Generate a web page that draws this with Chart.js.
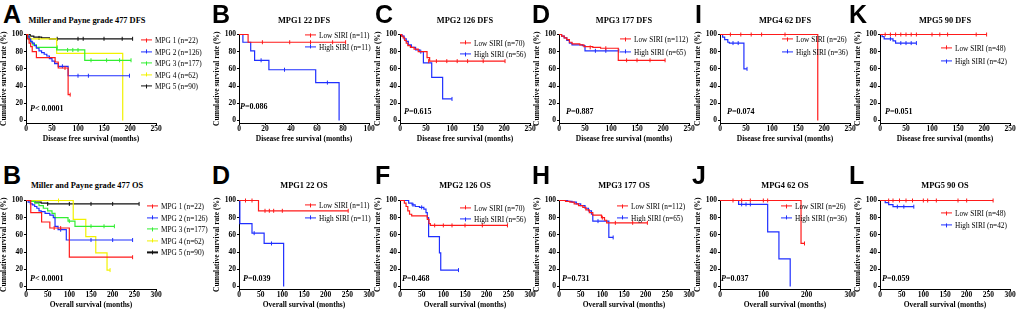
<!DOCTYPE html>
<html>
<head>
<meta charset="utf-8">
<script src="https://cdn.jsdelivr.net/npm/chart.js@4.4.1/dist/chart.umd.min.js"></script>
<style>
  body { margin: 0; background: #fff; width: 1017px; height: 312px; overflow: hidden; position: relative; font-family: "Liberation Serif", "Times New Roman", serif; color: #000; }
  canvas { position: absolute; }
  .letter { position: absolute; font-family: "Liberation Sans", Arial, sans-serif; font-weight: bold; font-size: 25px; line-height: 25px; }
  .title { position: absolute; font-weight: bold; font-size: 8.4px; white-space: nowrap; transform: translate(-50%, -50%); }
  .pval { position: absolute; font-weight: bold; font-size: 8px; white-space: nowrap; transform: translateY(-50%); }
  .pval i { font-style: italic; }
  .leg { position: absolute; font-size: 7.3px; white-space: nowrap; transform: translateY(-50%); }
  .key { position: absolute; width: 11px; height: 1.2px; transform: translateY(-50%); }
  .key span { position: absolute; left: 5px; top: -1.5px; width: 1px; height: 4px; }
</style>
</head>
<body>
<script>
// ---- data (months, survival %) ----
const mpgLabels = ['MPG 1 (n=22)', 'MPG 2 (n=126)', 'MPG 3 (n=177)', 'MPG 4 (n=62)', 'MPG 5 (n=90)'];
const siriN = [[11, 11], [70, 56], [112, 65], [26, 36], [48, 42]];
const pDfs = ['< 0.0001', '=0.086', '=0.615', '=0.887', '=0.074', '=0.051'];
const pOs = ['< 0.0001', '=0.039', '=0.468', '=0.731', '=0.037', '=0.059'];
const lettersDfs = ['A', 'B', 'C', 'D', 'I', 'K'];
const lettersOs = ['B', 'D', 'F', 'H', 'J', 'L'];
const titlesDfs = ['Miller and Payne grade 477 DFS', 'MPG1 22 DFS', 'MPG2 126 DFS', 'MPG3 177 DFS', 'MPG4 62 DFS', 'MPG5 90 DFS'];
const titlesOs = ['Miller and Payne grade 477 OS', 'MPG1 22 OS', 'MPG2 126 OS', 'MPG3 177 OS', 'MPG4 62 OS', 'MPG5 90 OS'];
const xMaxDfs = [250, 100, 250, 250, 250, 250];
const xStepDfs = [50, 20, 50, 50, 50, 50];
const xMaxOs = [300, 300, 300, 300, 300, 300];
const xStepOs = [50, 50, 50, 50, 100, 50];
const yTicks = [0, 20, 40, 60, 80, 100];

// all-patient curves
const dfsMpg1 = [[0,100],[3,95],[6,90],[9,86],[12,80],[20,73],[54,73],[56,68],[62,61],[81,30],[85,30]];
const dfsMpg2 = [[0,100],[3,98],[6,95],[9,92],[12,90],[16,87],[20,84],[25,81],[30,79],[35,77],[40,75],[45,72],[50,69],[55,66],[62,63],[81,52],[199,52]];
const dfsMpg3 = [[0,100],[3,97],[6,94],[9,91],[13,88],[20,85],[59,82],[113,70],[202,70]];
const dfsMpg4 = [[0,100],[4,97],[8,95],[59,78],[186,0]];
const dfsMpg5 = [[0,100],[8,98],[15,97],[30,96],[45,95],[205,95]];
const osMpg1 = [[0,100],[11,86],[36,75],[55,68],[100,34],[246,34]];
const osMpg2 = [[0,100],[5,98],[10,96],[15,95],[20,93],[25,91],[30,88],[35,87],[44,85],[55,83],[63,80],[67,70],[74,66],[93,54],[246,54]];
const osMpg3 = [[0,100],[10,99],[20,97],[30,94],[40,91],[50,88],[60,85],[67,80],[97,76],[113,70],[204,70]];
const osMpg4 = [[0,100],[109,78],[138,58],[161,39],[187,19],[194,19]];
const osMpg5 = [[0,100],[10,99],[20,98],[35,97],[50,96],[261,96]];

// low / high SIRI curves per MPG grade
const dfsLow1 = [[0,100],[7,91],[82,91]];
const dfsHigh1 = [[0,100],[3,91],[9,81],[12,70],[23,59],[59,44],[77,0]];
const dfsLow2 = [[0,100],[3,98],[6,96],[9,93],[12,90],[15,87],[20,85],[27,83],[35,80],[52,73],[57,69],[202,69]];
const dfsHigh2 = [[0,100],[4,98],[8,95],[12,92],[16,88],[22,85],[30,82],[38,80],[45,67],[61,50],[82,25],[100,25]];
const dfsLow3 = [[0,100],[5,98],[10,96],[15,94],[20,91],[25,89],[40,88],[48,86],[65,85],[80,84],[114,70],[204,70]];
const dfsHigh3 = [[0,100],[5,98],[10,96],[15,93],[20,90],[25,88],[45,87],[50,81],[115,81]];
const dfsLow4 = [[0,100],[188,0]];
const dfsHigh4 = [[0,100],[5,97],[9,94],[15,91],[18,90],[46,60],[52,60]];
const dfsLow5 = [[0,100],[205,100]];
const dfsHigh5 = [[0,100],[4,97.6],[8,95],[25,92.5],[30,90],[70,90]];
const osLow1 = [[0,100],[45,88],[252,88]];
const osHigh1 = [[0,100],[2,73],[30,62],[58,50],[103,0]];
const osLow2 = [[0,100],[10,97],[14,93],[18,88],[22,84],[27,82],[63,78],[67,73],[70,71],[248,71]];
const osHigh2 = [[0,100],[20,97],[28,95],[35,93],[45,92],[55,90],[60,86],[63,80],[66,58],[91,39],[94,19],[135,19]];
const osLow3 = [[0,100],[15,99],[25,98],[35,96],[45,94],[55,92],[62,89],[70,86],[78,83],[98,80],[105,77],[110,74],[204,74]];
const osHigh3 = [[0,100],[20,99],[30,98],[40,96],[50,94],[60,91],[68,88],[75,84],[78,76],[115,57],[125,57]];
const osLow4 = [[0,100],[187,50],[195,50]];
const osHigh4 = [[0,100],[43,95.5],[110,63.5],[136,32],[162,0]];
const osLow5 = [[0,100],[261,100]];
const osHigh5 = [[0,100],[12,97.6],[20,95.2],[30,92.8],[78,92.8]];

// censored observations
const cenDfsMpg1 = [[75,61],[85,30]];
const cenDfsMpg2 = [[70,63],[100,52],[120,52],[199,52]];
const cenDfsMpg3 = [[60,85],[80,82],[90,82],[100,82],[125,70],[155,70],[180,70],[202,70]];
const cenDfsMpg5 = [[25,96],[60,95],[100,95],[110,95],[150,95],[185,95],[205,95]];
const cenOsMpg1 = [[65,68],[80,68],[246,34]];
const cenOsMpg2 = [[80,66],[150,54],[200,54],[246,54]];
const cenOsMpg3 = [[100,76],[150,70],[180,70],[204,70]];
const cenOsMpg4 = [[75,100],[194,19]];
const cenOsMpg5 = [[50,96],[100,96],[150,96],[200,96],[261,96]];
const cenDfsLow1 = [[18,91],[39,91],[55,91],[72,91],[82,91]];
const cenDfsHigh1 = [[17,70],[35,59],[68,44]];
const cenDfsLow2 = [[55,69],[70,69],[90,69],[110,69],[130,69],[160,69],[202,69]];
const cenDfsHigh2 = [[40,80],[100,25]];
const cenDfsLow3 = [[60,85],[90,84],[130,70],[150,70],[175,70],[204,70]];
const cenDfsHigh3 = [[70,81],[90,81],[115,81]];
const cenDfsLow4 = [[20,100],[40,100],[60,100],[80,100],[125,100]];
const cenDfsHigh4 = [[25,90],[35,90],[52,60]];
const cenDfsLow5 = [[10,100],[20,100],[30,100],[40,100],[50,100],[60,100],[70,100],[100,100],[115,100],[130,100],[185,100],[205,100]];
const cenDfsHigh5 = [[20,95],[40,90],[50,90],[60,90],[70,90]];
const cenOsLow1 = [[15,100],[30,100],[60,88],[70,88],[80,88],[100,88],[252,88]];
const cenOsHigh1 = [[35,62],[75,50]];
const cenOsLow2 = [[80,71],[100,71],[120,71],[150,71],[190,71],[248,71]];
const cenOsHigh2 = [[30,95],[50,92],[135,19]];
const cenOsLow3 = [[100,80],[130,74],[170,74],[204,74]];
const cenOsHigh3 = [[90,76],[125,57]];
const cenOsLow4 = [[30,100],[50,100],[70,100],[100,100],[110,100],[195,50]];
const cenOsHigh4 = [[50,95.5],[60,95.5],[70,95.5]];
const cenOsLow5 = [[20,100],[30,100],[45,100],[60,100],[75,100],[100,100],[110,100],[130,100],[180,100],[200,100],[261,100]];
const cenOsHigh5 = [[40,92.8],[55,92.8],[78,92.8]];

// ---- layout ----
const mpgColors = ['#ff1a1a', '#1f2fff', '#33ee33', '#f2f200', '#111111'];
const siriColors = ['#ff1a1a', '#1f2fff'];
const axisX = [26, 239, 400, 559, 720, 880];
const canvasTop = [29, 195];
const letterLeft = [[3, 212, 375, 532, 695, 849], [3, 212, 375, 532, 692, 849]];
const letterTop = [1.7, 162.7];
const titleY = [20, 185.3];
const legendPos = [
  [{x: 141, y: [40, 51.5, 63, 74.5, 86]}, {x: 305, y: [35, 46.7]}, {x: 460, y: [42.7, 54.3]}, {x: 620, y: [39.3, 51.7]}, {x: 782, y: [39.3, 51.7]}, {x: 941, y: [47.7, 61]}],
  [{x: 147, y: [206, 217.6, 229.2, 240.8, 252.4]}, {x: 305, y: [205.3, 217.7]}, {x: 460, y: [207.7, 219.3]}, {x: 617, y: [206, 217.7]}, {x: 781, y: [206, 217.7]}, {x: 941, y: [213.3, 225]}]
];
const pPos = [
  [[30, 108], [240, 106], [404, 111], [566, 111], [727, 111], [885, 111]],
  [[30, 277.7], [243, 277.7], [402, 277.7], [562, 277.7], [721, 277.7], [882, 277.7]]
];

const panels = [
  [
    {series: [dfsMpg1, dfsMpg2, dfsMpg3, dfsMpg4, dfsMpg5], cens: [cenDfsMpg1, cenDfsMpg2, cenDfsMpg3, [], cenDfsMpg5], colors: mpgColors, labels: mpgLabels},
    {series: [dfsLow1, dfsHigh1], cens: [cenDfsLow1, cenDfsHigh1]},
    {series: [dfsLow2, dfsHigh2], cens: [cenDfsLow2, cenDfsHigh2]},
    {series: [dfsLow3, dfsHigh3], cens: [cenDfsLow3, cenDfsHigh3]},
    {series: [dfsLow4, dfsHigh4], cens: [cenDfsLow4, cenDfsHigh4]},
    {series: [dfsLow5, dfsHigh5], cens: [cenDfsLow5, cenDfsHigh5]}
  ],
  [
    {series: [osMpg1, osMpg2, osMpg3, osMpg4, osMpg5], cens: [cenOsMpg1, cenOsMpg2, cenOsMpg3, cenOsMpg4, cenOsMpg5], colors: mpgColors, labels: mpgLabels},
    {series: [osLow1, osHigh1], cens: [cenOsLow1, cenOsHigh1]},
    {series: [osLow2, osHigh2], cens: [cenOsLow2, cenOsHigh2]},
    {series: [osLow3, osHigh3], cens: [cenOsLow3, cenOsHigh3]},
    {series: [osLow4, osHigh4], cens: [cenOsLow4, cenOsHigh4]},
    {series: [osLow5, osHigh5], cens: [cenOsLow5, cenOsHigh5]}
  ]
];

const serif = '"Liberation Serif", "Times New Roman", serif';

function addDiv(cls, html, left, top) {
  const d = document.createElement('div');
  d.className = cls;
  d.innerHTML = html;
  d.style.left = left + 'px';
  d.style.top = top + 'px';
  document.body.appendChild(d);
  return d;
}

function toPts(arr) {
  return arr.map(([x, y]) => ({x, y}));
}

function drawPanel(row, col) {
  const panel = panels[row][col];
  const colors = panel.colors || siriColors;
  const n = siriN[col - 1];
  const labels = panel.labels || [`Low SIRI (n=${n[0]})`, `High SIRI (n=${n[1]})`];
  const xMax = row === 0 ? xMaxDfs[col] : xMaxOs[col];
  const xStep = row === 0 ? xStepDfs[col] : xStepOs[col];

  const canvas = document.createElement('canvas');
  canvas.width = 166;
  canvas.height = 115;
  canvas.style.left = (axisX[col] - 26) + 'px';
  canvas.style.top = canvasTop[row] + 'px';
  canvas.style.width = '166px';
  canvas.style.height = '115px';
  document.body.appendChild(canvas);

  const datasets = [];
  panel.series.forEach((s, i) => {
    datasets.push({
      data: toPts(s),
      stepped: true,
      borderColor: colors[i],
      borderWidth: 1.2,
      pointRadius: 0,
      fill: false,
      clip: 4
    });
    if (panel.cens[i] && panel.cens[i].length) {
      datasets.push({
        data: toPts(panel.cens[i]),
        showLine: false,
        pointStyle: 'line',
        rotation: 90,
        pointRadius: 2,
        pointBorderWidth: 1,
        borderColor: colors[i],
        clip: 4
      });
    }
  });

  const tickFont = { family: serif, size: 7.5, weight: 'bold' };
  const titleFont = { family: serif, size: 7.5, weight: 'bold' };

  new Chart(canvas, {
    type: 'line',
    data: { datasets },
    options: {
      responsive: false,
      animation: false,
      events: [],
      layout: { padding: { top: 4, right: 10, left: 0, bottom: 0 } },
      plugins: { legend: { display: false }, tooltip: { enabled: false }, title: { display: false } },
      scales: {
        x: {
          type: 'linear', min: 0, max: xMax,
          afterFit: s => { s.height = 21; },
          ticks: { stepSize: xStep, font: tickFont, color: '#000', padding: 0, maxRotation: 0, autoSkip: false },
          grid: { drawOnChartArea: false, tickLength: 2, color: '#000' },
          border: { color: '#000', width: 1 },
          title: { display: true, text: row === 0 ? 'Disease free survival (months)' : 'Overall survival (months)', font: titleFont, color: '#000', padding: 0 }
        },
        y: {
          type: 'linear', min: -3, max: 100,
          afterFit: s => { s.width = 26; },
          afterBuildTicks: s => { s.ticks = yTicks.map(v => ({ value: v })); },
          ticks: { font: tickFont, color: '#000', padding: 1 },
          grid: { drawOnChartArea: false, tickLength: 2, color: '#000' },
          border: { color: '#000', width: 1 },
          title: { display: true, text: 'Cumulative survival rate (%)', font: titleFont, color: '#000', padding: 0 }
        }
      }
    }
  });

  // panel letter, title, p value
  addDiv('letter', row === 0 ? lettersDfs[col] : lettersOs[col], letterLeft[row][col], letterTop[row]);
  addDiv('title', row === 0 ? titlesDfs[col] : titlesOs[col], col === 0 ? 87 : axisX[col] + 65, titleY[row]);
  const p = row === 0 ? pDfs[col] : pOs[col];
  addDiv('pval', `<i>P</i>${p}`, pPos[row][col][0], pPos[row][col][1]);

  // legend
  const lp = legendPos[row][col];
  labels.forEach((label, i) => {
    const k = addDiv('key', `<span style="background:${colors[i]}"></span>`, lp.x, lp.y[i]);
    k.style.background = colors[i];
    addDiv('leg', label, lp.x + 14, lp.y[i]);
  });
}

for (let r = 0; r < 2; r++) {
  for (let c = 0; c < 6; c++) drawPanel(r, c);
}
</script>
</body>
</html>
